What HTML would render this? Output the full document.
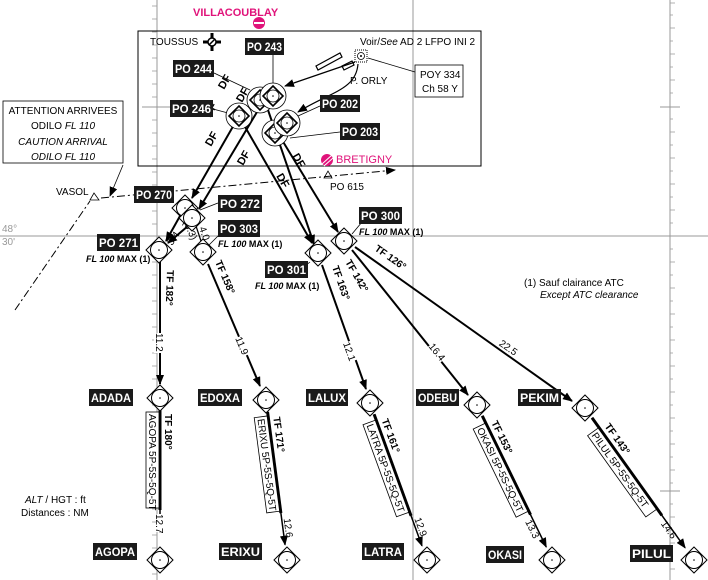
<!DOCTYPE html>
<html><head><meta charset="utf-8"><style>
html,body{margin:0;padding:0;background:#fff}
svg{display:block}
text{font-family:"Liberation Sans",sans-serif}
.lb{fill:#fff;font-weight:bold;font-size:12px}
.s{font-size:10px}
.fl{font-size:9px;font-weight:bold}
</style></head><body>
<svg width="708" height="580" viewBox="0 0 708 580" xmlns="http://www.w3.org/2000/svg">
<defs>
<marker id="ar" markerWidth="10" markerHeight="8" refX="9" refY="4" orient="auto" markerUnits="userSpaceOnUse"><path d="M0,0 L10,4 L0,8 z" fill="#000"/></marker>
<symbol id="wp" overflow="visible"><path d="M0,-13 L13,0 L0,13 L-13,0 Z" fill="#fff" stroke="#000" stroke-width="1"/><circle r="8.5" fill="#fff" stroke="#000" stroke-width="1"/><circle r="0.8" fill="#000"/></symbol>
<symbol id="wpc" overflow="visible"><circle r="13" fill="#fff" stroke="#000" stroke-width="0.8"/><path d="M0,-10 L10,0 L0,10 L-10,0 Z" fill="#fff" stroke="#000" stroke-width="1.6"/><circle r="6" fill="#fff" stroke="#000" stroke-width="0.8"/><circle r="0.8" fill="#000"/></symbol>
</defs>
<g stroke="#999" stroke-width="1" fill="none">
<line x1="0" y1="236" x2="708" y2="236"/>
<line x1="157" y1="0" x2="157" y2="580"/>
<line x1="413" y1="0" x2="413" y2="580"/>
<line x1="670" y1="0" x2="670" y2="580"/>
<line x1="142" y1="107" x2="172" y2="107"/>
<line x1="660" y1="107" x2="680" y2="107"/>
<line x1="660" y1="491" x2="680" y2="491"/>
</g>
<g stroke="#999" stroke-width="0.8">
<path d="M157,6h-5M157,19h-5M157,32h-5M157,45h-5M157,58h-5M157,71h-5M157,84h-5M157,97h-5M157,120h-5M157,133h-5M157,146h-5M157,159h-5M157,172h-5M157,185h-5M157,198h-5M157,211h-5M157,224h-5M157,249h-5M157,262h-5M157,275h-5M157,288h-5M157,301h-5M157,314h-5M157,327h-5M157,340h-5M157,353h-5M157,366h-5M157,379h-5M157,392h-5M157,405h-5M157,418h-5M157,431h-5M157,444h-5M157,457h-5M157,470h-5M157,483h-5M157,496h-5M157,509h-5M157,522h-5M157,535h-5M157,548h-5M157,561h-5M157,574h-5"/>
<path d="M670,3h5M670,15h3M670,28h5M670,41h3M670,54h5M670,67h3M670,80h5M670,93h3M670,119h3M670,132h5M670,145h3M670,158h5M670,171h3M670,184h5M670,197h3M670,210h5M670,223h3M670,249h3M670,262h5M670,275h3M670,288h5M670,301h3M670,314h5M670,327h3M670,340h5M670,353h3M670,366h5M670,379h3M670,392h5M670,405h3M670,418h5M670,431h3M670,444h5M670,457h3M670,470h5M670,483h3M670,504h3M670,517h5M670,530h3M670,543h5M670,556h3M670,569h5"/>
</g>
<text x="2" y="232" font-size="10" fill="#999">48°</text>
<text x="2" y="245" font-size="10" fill="#999">30'</text>

<rect x="138" y="31" width="343" height="135" fill="none" stroke="#000" stroke-width="1"/>
<text x="193" y="16" font-size="11" font-weight="bold" fill="#e0137a">VILLACOUBLAY</text>
<circle cx="259" cy="23" r="6" fill="#e0137a"/><rect x="254" y="22" width="10" height="2" fill="#fff"/>
<text x="150" y="45" class="s">TOUSSUS</text>
<g transform="translate(212,42)"><path d="M-9,0H9M0,-9V9" stroke="#000" stroke-width="3"/><circle r="4" fill="#fff" stroke="#000" stroke-width="1.5"/><path d="M-3,3L3,-3" stroke="#000" stroke-width="1.5"/></g>
<text x="360" y="45" class="s">Voir/<tspan font-style="italic">See</tspan> AD 2 LFPO INI 2</text>
<rect x="355" y="50" width="12" height="12" fill="#fff" stroke="#000" stroke-dasharray="1,1"/><circle cx="361" cy="56" r="3.5" fill="none" stroke="#000" stroke-width="0.8"/><circle cx="361" cy="56" r="1" fill="#000"/>
<line x1="368" y1="58" x2="415" y2="72" stroke="#000" stroke-width="0.8"/>
<rect x="415" y="65" width="48" height="32" fill="#fff" stroke="#000" stroke-width="0.8"/>
<text x="420" y="78" class="s">POY 334</text><text x="422" y="92" class="s">Ch 58 Y</text>
<text x="350" y="84" class="s">P. ORLY</text>
<g stroke="#000" stroke-width="1.2" fill="#fff"><path d="M316,66 L340,53 L342,57 L318,70 Z"/><path d="M342,66 L352,61 L354,65 L344,70 Z"/></g>
<g stroke="#000" stroke-width="1.2" fill="none" marker-end="url(#ar)">
<path d="M355,62 L285,86"/>
<path d="M358,64 C356,90 330,92 298,112"/>
</g>
<circle cx="327" cy="160" r="6" fill="#e0137a"/><path d="M322,164L332,155M324,166L333,158" stroke="#fff" stroke-width="1"/>
<text x="336" y="163" font-size="11" fill="#e0137a">BRETIGNY</text>
<path d="M324,178L328,171L332,178Z" fill="#fff" stroke="#000" stroke-width="0.8"/>
<text x="330" y="190" class="s">PO 615</text>

<rect x="3" y="101" width="120" height="62" fill="#fff" stroke="#000" stroke-width="0.8"/>
<g font-size="10" text-anchor="middle"><text x="63" y="114">ATTENTION ARRIVEES</text><text x="63" y="129">ODILO <tspan font-style="italic">FL 110</tspan></text><text x="63" y="145" font-style="italic">CAUTION ARRIVAL</text><text x="63" y="160" font-style="italic">ODILO FL 110</text></g>
<line x1="123" y1="165" x2="110" y2="196" stroke="#000" stroke-width="0.8" marker-end="url(#ar)"/>
<text x="56" y="195" class="s">VASOL</text>
<path d="M90,200L94,193L99,200Z" fill="#fff" stroke="#000" stroke-width="0.8"/>
<g stroke="#000" stroke-width="1" stroke-dasharray="8,3,2,3" fill="none">
<line x1="15" y1="310" x2="90" y2="201"/>
<line x1="101" y1="198" x2="395" y2="170" marker-end="url(#ar)"/>
</g>

<g stroke="#000" stroke-width="2" fill="none" marker-end="url(#ar)">
<line x1="239" y1="116" x2="192" y2="198"/>
<line x1="257" y1="112" x2="199" y2="209"/>
<line x1="244" y1="125" x2="312" y2="243"/>
<line x1="268" y1="110" x2="314" y2="244"/>
<line x1="282" y1="140" x2="338" y2="232"/>
<line x1="180" y1="216" x2="166" y2="241"/>
<line x1="188" y1="226" x2="168" y2="243"/>
</g>
<line x1="196" y1="226" x2="201" y2="241" stroke="#000" stroke-width="1.2"/>
<g font-size="11" font-weight="bold">
<text transform="translate(224,90) rotate(-60)">DF</text>
<text transform="translate(210,118) rotate(-60)">DF</text>
<text transform="translate(242,103) rotate(-60)">DF</text>
<text transform="translate(211,147) rotate(-60)">DF</text>
<text transform="translate(243,166) rotate(-60)">DF</text>
<text transform="translate(276,176) rotate(60)">DF</text>
<text transform="translate(292,156) rotate(60)">DF</text>
</g>
<g font-size="10">
<text transform="translate(172,246) rotate(-55)">3.4</text>
<text transform="translate(183,222) rotate(65)">(3.3)</text>
<text transform="translate(199,228) rotate(70)">4.0</text>
</g>
<line x1="273" y1="55" x2="273" y2="84" stroke="#000" stroke-width="0.8"/>
<line x1="214" y1="73" x2="250" y2="90" stroke="#000" stroke-width="0.8"/>
<line x1="213" y1="109" x2="228" y2="113" stroke="#000" stroke-width="0.8"/>
<line x1="320" y1="106" x2="298" y2="116" stroke="#000" stroke-width="0.8"/>
<line x1="340" y1="132" x2="290" y2="138" stroke="#000" stroke-width="0.8"/>
<use href="#wpc" x="239" y="116"/>
<use href="#wpc" x="260" y="100"/>
<use href="#wpc" x="273" y="96"/>
<use href="#wpc" x="275" y="133"/>
<use href="#wpc" x="287" y="123"/>

<g stroke="#000" stroke-width="2" fill="none" marker-end="url(#ar)">
<line x1="160" y1="262" x2="160" y2="384"/>
<line x1="208" y1="264" x2="260" y2="386"/>
<line x1="322" y1="265" x2="366" y2="389"/>
<line x1="352" y1="250" x2="468" y2="395"/>
<line x1="355" y1="247" x2="572" y2="401"/>
</g>
<g font-size="10" font-weight="bold">
<text transform="translate(167,270) rotate(92)">TF 182°</text>
<text transform="translate(215,262) rotate(67)">TF 158°</text>
<text transform="translate(332,267) rotate(71)">TF 163°</text>
<text transform="translate(345,262) rotate(60)">TF 142°</text>
<text transform="translate(374,250) rotate(35)">TF 126°</text>
</g>
<g font-size="10" fill="#000">
<g transform="translate(157,333) rotate(90)"><rect x="0" y="-8" width="20" height="11" fill="#fff"/><text x="0" y="1">11.2</text></g>
<g transform="translate(236,338) rotate(67)"><rect x="0" y="-8" width="20" height="11" fill="#fff"/><text x="0" y="1">11.9</text></g>
<g transform="translate(344,343) rotate(71)"><rect x="0" y="-8" width="20" height="11" fill="#fff"/><text x="0" y="1">12.1</text></g>
<g transform="translate(429,346) rotate(51)"><rect x="0" y="-8" width="20" height="11" fill="#fff"/><text x="0" y="1">16.4</text></g>
<g transform="translate(499,344) rotate(35)"><rect x="0" y="-8" width="20" height="11" fill="#fff"/><text x="0" y="1">22.5</text></g>
</g>

<g transform="translate(160,398) rotate(90)">
<line x1="12" y1="0" x2="134" y2="0" stroke="#000" stroke-width="1.5" marker-end="url(#ar)"/>
<line x1="12" y1="0" x2="112" y2="0" stroke="#000" stroke-width="3"/>
<rect x="14" y="1" width="96" height="13" fill="#fff" stroke="#000" stroke-width="0.8"/>
<text x="16" y="11" font-size="10">AGOPA 5P-5S-5Q-5T</text>
<text x="16" y="-5" font-size="10" font-weight="bold">TF 180°</text>
<rect x="116" y="-4" width="18" height="8" fill="#fff"/>
<text x="116" y="4" font-size="10">12.7</text>
</g>
<g transform="translate(266,400) rotate(82.5)">
<line x1="12" y1="0" x2="146" y2="0" stroke="#000" stroke-width="1.5" marker-end="url(#ar)"/>
<line x1="12" y1="0" x2="114" y2="0" stroke="#000" stroke-width="3"/>
<rect x="16" y="1" width="96" height="13" fill="#fff" stroke="#000" stroke-width="0.8"/>
<text x="18" y="11" font-size="10">ERIXU 5P-5S-5Q-5T</text>
<text x="18" y="-5" font-size="10" font-weight="bold">TF 171°</text>
<text x="120" y="-2" font-size="10">12.6</text>
</g>
<g transform="translate(370,403) rotate(70)">
<line x1="12" y1="0" x2="152" y2="0" stroke="#000" stroke-width="1.5" marker-end="url(#ar)"/>
<line x1="12" y1="0" x2="120" y2="0" stroke="#000" stroke-width="3"/>
<rect x="18" y="1" width="98" height="13" fill="#fff" stroke="#000" stroke-width="0.8"/>
<text x="20" y="11" font-size="10">LATRA 5P-5S-5Q-5T</text>
<text x="20" y="-5" font-size="10" font-weight="bold">TF 161°</text>
<text x="124" y="-2" font-size="10">12.9</text>
</g>
<g transform="translate(477,405) rotate(64)">
<line x1="12" y1="0" x2="158" y2="0" stroke="#000" stroke-width="1.5" marker-end="url(#ar)"/>
<line x1="12" y1="0" x2="122" y2="0" stroke="#000" stroke-width="3"/>
<rect x="20" y="1" width="98" height="13" fill="#fff" stroke="#000" stroke-width="0.8"/>
<text x="22" y="11" font-size="10">OKASI 5P-5S-5Q-5T</text>
<text x="22" y="-5" font-size="10" font-weight="bold">TF 153°</text>
<text x="126" y="8" font-size="10">13.3</text>
</g>
<g transform="translate(585,408) rotate(54.4)">
<line x1="12" y1="0" x2="172" y2="0" stroke="#000" stroke-width="1.5" marker-end="url(#ar)"/>
<line x1="12" y1="0" x2="132" y2="0" stroke="#000" stroke-width="3"/>
<rect x="24" y="1" width="100" height="13" fill="#fff" stroke="#000" stroke-width="0.8"/>
<text x="26" y="11" font-size="10">PILUL 5P-5S-5Q-5T</text>
<text x="26" y="-5" font-size="10" font-weight="bold">TF 143°</text>
<text x="138" y="6" font-size="10">14.6</text>
</g>

<line x1="200" y1="210" x2="218" y2="203" stroke="#000" stroke-width="0.8"/>
<line x1="209" y1="245" x2="220" y2="234" stroke="#000" stroke-width="0.8"/>
<line x1="310" y1="262" x2="305" y2="266" stroke="#000" stroke-width="0.8"/>
<line x1="352" y1="234" x2="362" y2="222" stroke="#000" stroke-width="0.8"/>
<use href="#wp" x="185" y="208"/>
<use href="#wp" x="192" y="218"/>
<use href="#wp" x="159" y="250"/>
<use href="#wp" x="203" y="252"/>
<use href="#wp" x="318" y="253"/>
<use href="#wp" x="344" y="241"/>
<use href="#wp" x="160" y="398"/>
<use href="#wp" x="266" y="400"/>
<use href="#wp" x="370" y="403"/>
<use href="#wp" x="477" y="405"/>
<use href="#wp" x="585" y="408"/>
<use href="#wp" x="160" y="560"/>
<use href="#wp" x="287" y="560"/>
<use href="#wp" x="427" y="560"/>
<use href="#wp" x="552" y="560"/>
<use href="#wp" x="694" y="560"/>

<g>
<rect x="245" y="38" width="39" height="17" fill="#1a1a1a"/><text x="247" y="51" class="lb" textLength="35" lengthAdjust="spacingAndGlyphs">PO 243</text>
<rect x="173" y="60" width="41" height="17" fill="#1a1a1a"/><text x="175" y="73" class="lb" textLength="37" lengthAdjust="spacingAndGlyphs">PO 244</text>
<rect x="170" y="100" width="43" height="17" fill="#1a1a1a"/><text x="172" y="113" class="lb" textLength="39" lengthAdjust="spacingAndGlyphs">PO 246</text>
<rect x="320" y="95" width="40" height="17" fill="#1a1a1a"/><text x="322" y="108" class="lb" textLength="36" lengthAdjust="spacingAndGlyphs">PO 202</text>
<rect x="340" y="123" width="40" height="17" fill="#1a1a1a"/><text x="342" y="136" class="lb" textLength="36" lengthAdjust="spacingAndGlyphs">PO 203</text>
<rect x="134" y="186" width="40" height="17" fill="#1a1a1a"/><text x="136" y="199" class="lb" textLength="36" lengthAdjust="spacingAndGlyphs">PO 270</text>
<rect x="218" y="195" width="44" height="17" fill="#1a1a1a"/><text x="220" y="208" class="lb" textLength="40" lengthAdjust="spacingAndGlyphs">PO 272</text>
<rect x="218" y="220" width="42" height="17" fill="#1a1a1a"/><text x="220" y="233" class="lb" textLength="38" lengthAdjust="spacingAndGlyphs">PO 303</text>
<rect x="97" y="234" width="43" height="17" fill="#1a1a1a"/><text x="99" y="247" class="lb" textLength="39" lengthAdjust="spacingAndGlyphs">PO 271</text>
<rect x="265" y="261" width="43" height="17" fill="#1a1a1a"/><text x="267" y="274" class="lb" textLength="39" lengthAdjust="spacingAndGlyphs">PO 301</text>
<rect x="359" y="207" width="43" height="17" fill="#1a1a1a"/><text x="361" y="220" class="lb" textLength="39" lengthAdjust="spacingAndGlyphs">PO 300</text>
<rect x="89" y="389" width="44" height="17" fill="#1a1a1a"/><text x="91" y="402" class="lb" textLength="40" lengthAdjust="spacingAndGlyphs">ADADA</text>
<rect x="198" y="389" width="44" height="17" fill="#1a1a1a"/><text x="200" y="402" class="lb" textLength="40" lengthAdjust="spacingAndGlyphs">EDOXA</text>
<rect x="306" y="389" width="42" height="17" fill="#1a1a1a"/><text x="308" y="402" class="lb" textLength="38" lengthAdjust="spacingAndGlyphs">LALUX</text>
<rect x="416" y="389" width="43" height="17" fill="#1a1a1a"/><text x="418" y="402" class="lb" textLength="39" lengthAdjust="spacingAndGlyphs">ODEBU</text>
<rect x="518" y="389" width="43" height="17" fill="#1a1a1a"/><text x="520" y="402" class="lb" textLength="39" lengthAdjust="spacingAndGlyphs">PEKIM</text>
<rect x="93" y="543" width="44" height="17" fill="#1a1a1a"/><text x="95" y="556" class="lb" textLength="40" lengthAdjust="spacingAndGlyphs">AGOPA</text>
<rect x="219" y="543" width="43" height="17" fill="#1a1a1a"/><text x="221" y="556" class="lb" textLength="39" lengthAdjust="spacingAndGlyphs">ERIXU</text>
<rect x="362" y="543" width="42" height="17" fill="#1a1a1a"/><text x="364" y="556" class="lb" textLength="38" lengthAdjust="spacingAndGlyphs">LATRA</text>
<rect x="486" y="546" width="38" height="17" fill="#1a1a1a"/><text x="488" y="559" class="lb" textLength="34" lengthAdjust="spacingAndGlyphs">OKASI</text>
<rect x="630" y="545" width="43" height="17" fill="#1a1a1a"/><text x="632" y="558" class="lb" textLength="39" lengthAdjust="spacingAndGlyphs">PILUL</text>
</g>
<g class="fl" font-style="italic">
<text x="86" y="262"><tspan font-style="italic">FL 100</tspan> <tspan font-style="normal">MAX (1)</tspan></text>
<text x="218" y="247"><tspan>FL 100</tspan> <tspan font-style="normal">MAX (1)</tspan></text>
<text x="255" y="289"><tspan>FL 100</tspan> <tspan font-style="normal">MAX (1)</tspan></text>
<text x="359" y="235"><tspan>FL 100</tspan> <tspan font-style="normal">MAX (1)</tspan></text>
</g>
<text x="524" y="286" class="s">(1) Sauf clairance ATC</text>
<text x="540" y="298" class="s" font-style="italic">Except ATC clearance</text>
<text x="25" y="503" class="s"><tspan font-style="italic">ALT</tspan> / HGT : ft</text>
<text x="21" y="516" class="s">Distances : NM</text>
</svg>
</body></html>
